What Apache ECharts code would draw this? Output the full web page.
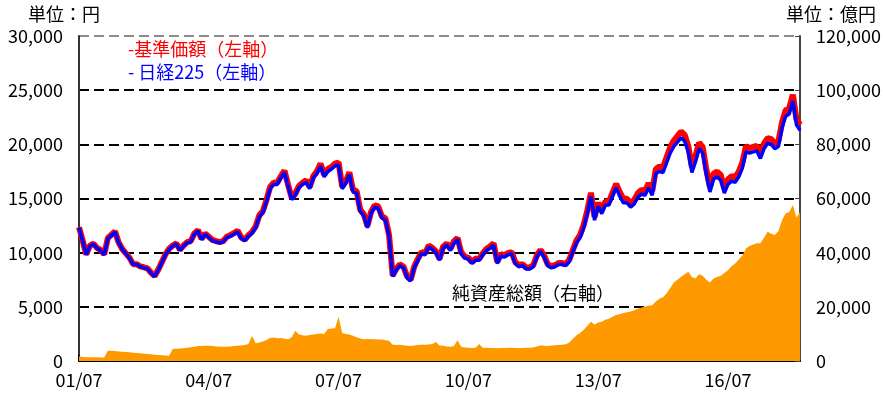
<!DOCTYPE html>
<html>
<head>
<meta charset="utf-8">
<script src="https://cdn.jsdelivr.net/npm/echarts@6/dist/echarts.min.js"></script>
<style>
  html, body { margin: 0; padding: 0; background: #fff; }
  #chart { width: 884px; height: 394px; }
</style>
</head>
<body>
<div id="chart"></div>
<script>
// Monthly categories from 2001/07 to 2018/03, labelled "YY/MM"
const months = [];
for (let i = 0; i < 201; i++) {
  const y = 2001 + Math.floor((6 + i) / 12);
  const m = (6 + i) % 12 + 1;
  months.push(String(y % 100).padStart(2, '0') + '/' + String(m).padStart(2, '0'));
}

// 基準価額 (円), one value per month
const basePrice = [
  12350, 11140, 9840, 10640, 10840, 10440,                                      // 2001 H2
  10240, 9840, 11350, 11650, 11950, 10940, 10340, 9940, 9540, 8940, 8940, 8730, // 2002
  8650, 8550, 8150, 7850, 8450, 9150, 9860, 10360, 10660, 10860, 10260, 10660,  // 2003
  10970, 11070, 11770, 12070, 11270, 11770, 11470, 11170, 11070, 10970, 11070, 11470, // 2004
  11620, 11820, 12020, 11410, 11210, 11620, 11920, 12420, 13430, 13840, 14850, 16060, // 2005
  16460, 16460, 17070, 17570, 16260, 15050, 15450, 16160, 16460, 16670, 16060, 17070, // 2006
  17510, 18220, 17200, 17710, 17910, 18220, 18320, 16090, 16600, 17410, 15790, 15690, // 2007
  13970, 13560, 12450, 13760, 14370, 14270, 13360, 13160, 11640, 7890, 8500, 8910,     // 2008
  8720, 7810, 7500, 8720, 9430, 10040, 9940, 10650, 10440, 10140, 9430, 10550,       // 2009
  10850, 10340, 11050, 11360, 10040, 9630, 9530, 9130, 9430, 9430, 9940, 10340,      // 2010
  10570, 10870, 9140, 9860, 9750, 9960, 10060, 9140, 8840, 8940, 8640, 8640,         // 2011
  8840, 9750, 10260, 9750, 8940, 8740, 8840, 9040, 9040, 8940, 9350, 10260,          // 2012
  11140, 11650, 12570, 13900, 15530, 13290, 14610, 13900, 14720, 14720, 15530, 16350, // 2013
  15580, 14970, 14970, 14560, 14860, 15480, 15790, 15680, 16400, 15680, 17730, 17940, // 2014
  17890, 18810, 19740, 20350, 20770, 21180, 20870, 19840, 17890, 18920, 20150, 19740, // 2015
  17680, 16040, 17270, 17480, 17170, 15930, 16760, 17060, 16960, 17480, 18300, 19840, // 2016
  19660, 19760, 19870, 19150, 20070, 20580, 20480, 20070, 20280, 22020, 23140, 23350, // 2017
  24580, 22320, 21810                                                           // 2018 Q1
];

// 日経225 (円), one value per month
const nikkei225 = [
  12300, 11100, 9800, 10600, 10800, 10400,
  10200, 9800, 11300, 11600, 11900, 10900, 10300, 9900, 9500, 8900, 8900, 8700,
  8600, 8500, 8100, 7800, 8400, 9100, 9800, 10300, 10600, 10800, 10200, 10600,
  10900, 11000, 11700, 12000, 11200, 11700, 11400, 11100, 11000, 10900, 11000, 11400,
  11500, 11700, 11900, 11300, 11100, 11500, 11800, 12300, 13300, 13700, 14700, 15900,
  16300, 16300, 16900, 17400, 16100, 14900, 15300, 16000, 16300, 16500, 15900, 16900,
  17300, 18000, 17000, 17500, 17700, 18000, 18100, 15900, 16400, 17200, 15600, 15500,
  13800, 13400, 12300, 13600, 14200, 14100, 13200, 13000, 11500, 7800, 8400, 8800,
  8600, 7700, 7400, 8600, 9300, 9900, 9800, 10500, 10300, 10000, 9300, 10400,
  10700, 10200, 10900, 11200, 9900, 9500, 9400, 9000, 9300, 9300, 9800, 10200,
  10400, 10700, 9000, 9700, 9600, 9800, 9900, 9000, 8700, 8800, 8500, 8500,
  8700, 9600, 10100, 9600, 8800, 8600, 8700, 8900, 8900, 8800, 9200, 10100,
  10900, 11400, 12300, 13600, 15200, 13000, 14300, 13600, 14400, 14400, 15200, 16000,
  15200, 14600, 14600, 14200, 14500, 15100, 15400, 15300, 16000, 15300, 17300, 17500,
  17400, 18300, 19200, 19800, 20200, 20600, 20300, 19300, 17400, 18400, 19600, 19200,
  17200, 15600, 16800, 17000, 16700, 15500, 16300, 16600, 16500, 17000, 17800, 19300,
  19200, 19300, 19400, 18700, 19600, 20100, 20000, 19600, 19800, 21500, 22600, 22800,
  24000, 21800, 21300
];

// 純資産総額 (億円), one value per month
const netAssets = [
  1800, 1500, 1400, 1400, 1350, 1350,
  1300, 1300, 3800, 3750, 3650, 3500, 3400, 3300, 3200, 3050, 2950, 2850,
  2700, 2600, 2500, 2300, 2200, 2100, 2000, 1900, 4400, 4500, 4600, 4750,
  4900, 5100, 5300, 5500, 5500, 5650, 5600, 5500, 5400, 5300, 5300, 5300,
  5400, 5500, 5600, 5700, 5900, 6300, 9200, 6600, 6800, 7200, 7800, 8500,
  8700, 8400, 8500, 8200, 8000, 8800, 11200, 9800, 9500, 9300, 9600, 9800,
  10000, 10200, 10000, 11800, 12000, 12100, 16300, 10300, 10000, 9800, 9300, 8800,
  8300, 8000, 8100, 8000, 8000, 7900, 7900, 7700, 7500, 6000, 5900, 6000,
  5800, 5600, 5500, 5700, 5900, 6000, 6000, 6100, 6300, 7000, 5700, 5600,
  5400, 5300, 5500, 7700, 5300, 5000, 4900, 4800, 4900, 6300, 4900, 4900,
  4800, 4800, 4700, 4800, 4800, 4900, 4900, 4800, 4800, 4800, 4900, 4900,
  5000, 5400, 5700, 5600, 5500, 5700, 5800, 5900, 6000, 6200, 6800, 8200,
  9500, 10300, 11500, 13000, 14500, 13500, 14200, 14500, 15200, 15600, 16300, 17000,
  17300, 17700, 18000, 18300, 18700, 19300, 19800, 20100, 20400, 20600, 22000, 23000,
  23500, 25000, 27000, 29000, 30000, 31100, 32000, 33000, 31000, 30500, 32000, 31500,
  30000, 29000, 30500, 31000, 31500, 32500, 33500, 35000, 36000, 37500, 39000, 41500,
  42500, 43000, 43500, 43500, 45500, 47700, 47000, 46500, 48000, 52000, 54600, 55000,
  57600, 53000, 55000
];

// Axis ranges and label formats
const leftAxisMax = 30000, leftAxisStep = 5000;
const rightAxisMax = 120000, rightAxisStep = 20000;
const labelEvery = 36; // one label every three years, on July

const FONT = '"Noto Sans CJK JP", "Noto Sans", sans-serif';
const fmt = v => Number(v).toLocaleString('en-US');

const chart = echarts.init(document.getElementById('chart'), null, { renderer: 'canvas' });

chart.setOption({
  animation: false,
  backgroundColor: '#ffffff',
  textStyle: { fontFamily: FONT },
  grid: { left: 79, right: 78, top: 36, bottom: 33, containLabel: false },
  xAxis: {
    type: 'category',
    data: months,
    boundaryGap: false,
    axisLine: { lineStyle: { color: '#000', width: 2 } },
    axisTick: { inside: true, length: 6, interval: i => i % labelEvery === 0, lineStyle: { color: '#000', width: 2 } },
    axisLabel: {
      interval: i => i % labelEvery === 0,
      color: '#000', fontSize: 18, fontFamily: FONT, margin: 10
    },
    splitLine: { show: false }
  },
  yAxis: [
    {
      type: 'value', min: 0, max: leftAxisMax, interval: leftAxisStep,
      axisLine: { show: true, lineStyle: { color: '#333', width: 2 } },
      axisTick: { show: false },
      axisLabel: { color: '#000', fontSize: 18, fontFamily: FONT, margin: 16, formatter: fmt },
      splitLine: {
        show: true,
        lineStyle: {
          color: ['#000', '#000', '#000', '#000', '#000', '#000', '#8c8c8c'],
          width: 2, type: [10, 5]
        }
      }
    },
    {
      type: 'value', min: 0, max: rightAxisMax, interval: rightAxisStep, position: 'right',
      axisLine: { show: true, lineStyle: { color: '#444', width: 2 } },
      axisTick: { show: true, inside: true, length: 5, lineStyle: { color: '#444', width: 1 } },
      axisLabel: { color: '#000', fontSize: 18, fontFamily: FONT, margin: 16, formatter: fmt },
      splitLine: { show: false }
    }
  ],
  series: [
    {
      name: '純資産総額', type: 'line', yAxisIndex: 1, data: netAssets,
      symbol: 'none', lineStyle: { width: 0 },
      areaStyle: { color: '#ff9900', opacity: 1 }, z: 1
    },
    {
      name: '基準価額', type: 'line', yAxisIndex: 0, data: basePrice,
      symbol: 'none', lineStyle: { color: '#ff0000', width: 6 }, z: 2
    },
    {
      name: '日経225', type: 'line', yAxisIndex: 0, data: nikkei225,
      symbol: 'none', lineStyle: { color: '#0000ff', width: 3.5 }, z: 3
    }
  ],
  graphic: [
    { type: 'text', left: 28, top: 5, style: { text: '単位：円', fill: '#000', font: '18px ' + FONT } },
    { type: 'text', right: 8, top: 5, style: { text: '単位：億円', fill: '#000', font: '18px ' + FONT } },
    { type: 'text', left: 128, top: 40, z: 10, style: { text: '-基準価額（左軸）', fill: '#ff0000', font: '18px ' + FONT } },
    { type: 'text', left: 128, top: 63, z: 10, style: { text: '- 日経225（左軸）', fill: '#0000ff', font: '18px ' + FONT } },
    { type: 'text', left: 452, top: 284, z: 10, style: { text: '純資産総額（右軸）', fill: '#000', font: '18px ' + FONT } }
  ]
});
</script>
</body>
</html>
